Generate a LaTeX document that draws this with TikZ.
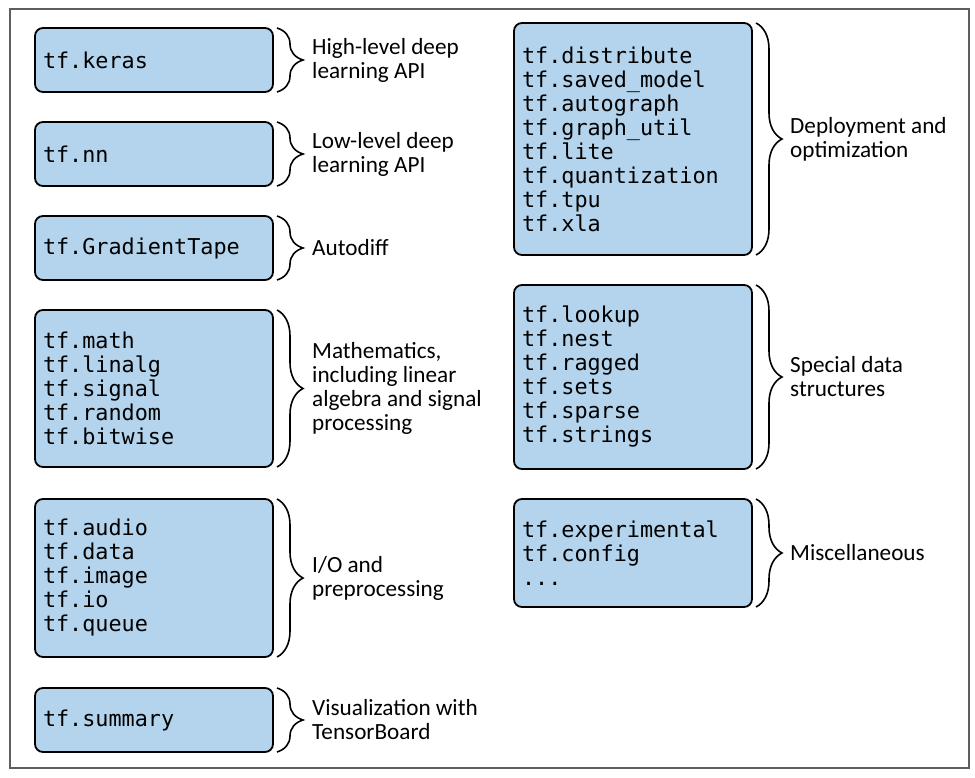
\documentclass[tikz,border=0pt]{standalone}
\usepackage{fontspec}
\setmainfont{Carlito}
\setmonofont{DejaVu Sans Mono}
\usepackage{tikz}
\usetikzlibrary{positioning,decorations.pathreplacing}

\definecolor{boxblue}{HTML}{B3D4EC}
\definecolor{framegray}{HTML}{5E5E5E}

\begin{document}
\begin{tikzpicture}[
  x=1pt, y=-1pt,
  node distance=30pt,
  pkgbox/.style={
    draw, line width=1.8pt, rounded corners=8pt,
    fill=boxblue, align=left, anchor=north west,
    text width=222pt, inner xsep=8pt, inner ysep=6pt, outer sep=0pt,
    minimum height=64pt,
    font=\fontsize{21.8}{24}\selectfont\ttfamily
  },
  brc/.style={
    draw, line width=1.6pt,
    decorate, decoration={brace, amplitude=26pt, raise=4pt}
  },
  lbl/.style={
    align=left, anchor=west, inner sep=0pt,
    font=\fontsize{23.2}{24}\selectfont
  }
]
\useasboundingbox (0,0) rectangle (975,778);
\draw[framegray, line width=1.3pt] (10,9) rectangle (969,768);

% Left column
\node[pkgbox] (keras) at (35,28) {tf.keras};
\node[pkgbox, below=of keras] (nn) {tf.nn};
\node[pkgbox, below=of nn] (tape) {tf.GradientTape};
\node[pkgbox, below=of tape, minimum height=157pt] (math) {
  tf.math\\
  tf.linalg\\
  tf.signal\\
  tf.random\\
  tf.bitwise
};
\node[pkgbox, below=32pt of math, minimum height=158pt] (io) {
  tf.audio\\
  tf.data\\
  tf.image\\
  tf.io\\
  tf.queue
};
\node[pkgbox, below=31pt of io] (summ) {tf.summary};

% Right column
\node[pkgbox, minimum height=232pt] (deploy) at (514,23) {
  tf.distribute\\
  tf.saved\_model\\
  tf.autograph\\
  tf.graph\_util\\
  tf.lite\\
  tf.quantization\\
  tf.tpu\\
  tf.xla
};
\node[pkgbox, below=of deploy, minimum height=184pt] (struct) {
  tf.lookup\\
  tf.nest\\
  tf.ragged\\
  tf.sets\\
  tf.sparse\\
  tf.strings
};
\node[pkgbox, below=of struct, minimum height=108pt] (misc) {
  tf.experimental\\
  tf.config\\
  ...
};

% Braces
\foreach \b in {keras,nn,tape,math,io,summ,deploy,struct,misc}
  \draw[brc] (\b.north east) -- (\b.south east);

% Labels
\node[lbl, right=39pt of keras.east] {High-level deep\\learning API};
\node[lbl, right=39pt of nn.east] {Low-level deep\\learning API};
\node[lbl, right=39pt of tape.east] {Autodiff};
\node[lbl, right=39pt of math.east] {Mathematics,\\including linear\\algebra and signal\\processing};
\node[lbl, right=39pt of io.east] {I/O and\\preprocessing};
\node[lbl, right=39pt of summ.east] {Visualization with\\TensorBoard};
\node[lbl, right=38pt of deploy.east] {Deployment and\\optimization};
\node[lbl, right=38pt of struct.east] {Special data\\structures};
\node[lbl, right=38pt of misc.east] {Miscellaneous};

\end{tikzpicture}
\end{document}
